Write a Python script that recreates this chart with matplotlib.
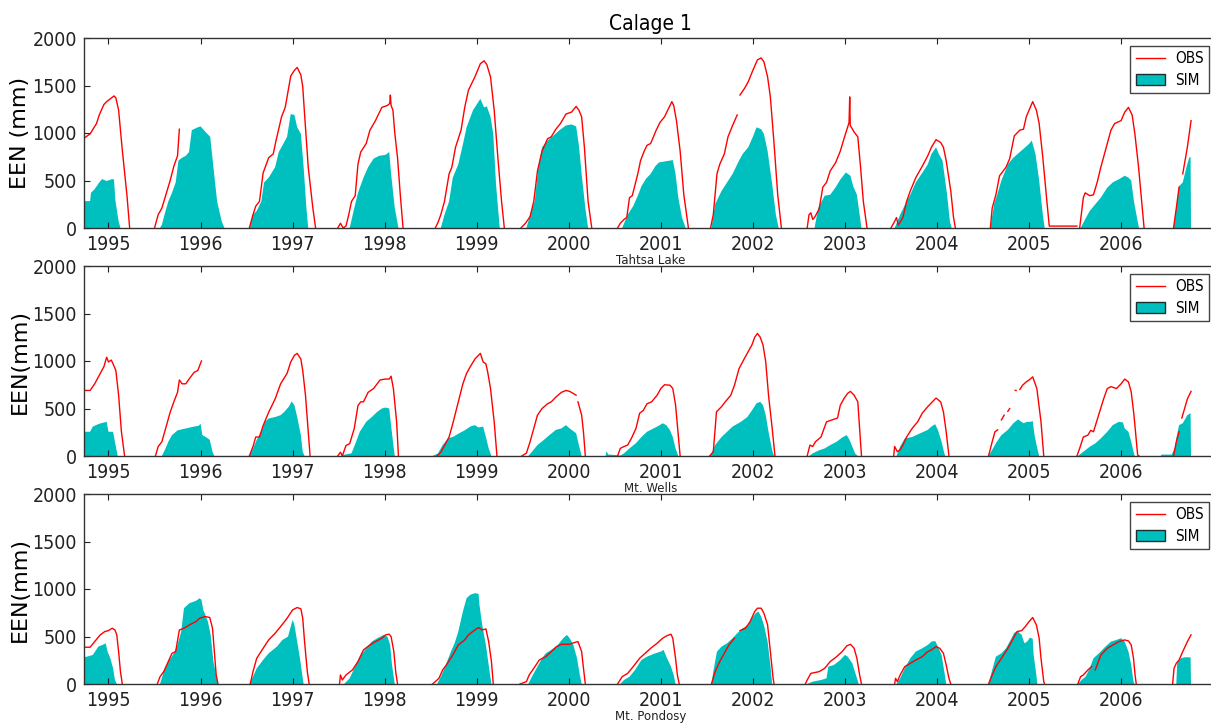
import numpy as np
import matplotlib
matplotlib.use("Agg")
import matplotlib.pyplot as plt
from matplotlib.patches import Patch
from matplotlib.lines import Line2D

plt.rcParams['font.family'] = ['DejaVu Sans']
plt.rcParams['font.stretch'] = 'condensed'

# ---------------- data ----------------
year_ticks = list(range(1995, 2007))
stations = ['Tahtsa Lake', 'Mt. Wells', 'Mt. Pondosy']
ylabels = ['EEN (mm)', 'EEN(mm)', 'EEN(mm)']
title = 'Calage 1'

# (decimal year, SWE mm); None = gap in observations
tahtsa_obs = [
    (1994.74, 950), (1994.80, 990), (1994.85, 1070), (1994.87, 1100), (1994.90, 1190), (1994.95, 1300),
    (1994.98, 1330), (1995.02, 1360), (1995.06, 1390), (1995.08, 1370), (1995.11, 1240), (1995.15, 820),
    (1995.20, 350), (1995.23, 0), None,
    (1995.50, 0), (1995.54, 140), (1995.58, 210), (1995.63, 370), (1995.67, 500), (1995.71, 650),
    (1995.75, 760), (1995.77, 1040), None,
    (1996.53, 0), (1996.57, 140), (1996.60, 230), (1996.64, 280), (1996.68, 580), (1996.74, 740),
    (1996.79, 780), (1996.82, 920), (1996.88, 1170), (1996.92, 1270), (1996.98, 1600), (1997.02, 1660),
    (1997.05, 1690), (1997.09, 1610), (1997.11, 1490), (1997.13, 1200), (1997.17, 640), (1997.22, 210),
    (1997.25, 0), None,
    (1997.49, 0), (1997.52, 50), (1997.55, 0), (1997.58, 20), (1997.61, 140), (1997.64, 280),
    (1997.68, 340), (1997.71, 670), (1997.74, 800), (1997.80, 890), (1997.84, 1030), (1997.90, 1130),
    (1997.97, 1270), (1998.03, 1290), (1998.055, 1310), (1998.062, 1400), (1998.07, 1290), (1998.09, 1240),
    (1998.11, 1000), (1998.14, 740), (1998.17, 350), (1998.20, 0), None,
    (1998.55, 0), (1998.58, 60), (1998.61, 140), (1998.65, 280), (1998.70, 570), (1998.73, 640),
    (1998.77, 850), (1998.83, 1030), (1998.87, 1270), (1998.91, 1450), (1998.98, 1590), (1999.04, 1730),
    (1999.08, 1760), (1999.11, 1720), (1999.15, 1590), (1999.19, 1240), (1999.23, 740), (1999.27, 280),
    (1999.30, 0), None,
    (1999.48, 0), (1999.53, 50), (1999.58, 120), (1999.62, 280), (1999.66, 600), (1999.71, 810),
    (1999.77, 940), (1999.81, 960), (1999.86, 1040), (1999.91, 1100), (1999.97, 1200), (2000.03, 1220),
    (2000.08, 1280), (2000.11, 1240), (2000.14, 1170), (2000.17, 850), (2000.21, 280), (2000.25, 0), None,
    (2000.53, 0), (2000.56, 50), (2000.60, 90), (2000.63, 110), (2000.66, 320), (2000.69, 340),
    (2000.75, 570), (2000.78, 710), (2000.82, 810), (2000.85, 870), (2000.89, 890), (2000.95, 1030),
    (2000.99, 1110), (2001.04, 1170), (2001.09, 1270), (2001.12, 1330), (2001.14, 1290), (2001.17, 1130),
    (2001.21, 810), (2001.25, 350), (2001.30, 0), None,
    (2001.54, 0), (2001.57, 140), (2001.61, 570), (2001.64, 670), (2001.69, 780), (2001.73, 960),
    (2001.78, 1080), (2001.83, 1190), None,
    (2001.86, 1400), (2001.91, 1470), (2001.95, 1540), (2002.00, 1660), (2002.05, 1770), (2002.09, 1790),
    (2002.12, 1750), (2002.16, 1590), (2002.19, 1380), (2002.23, 890), (2002.27, 350), (2002.31, 0), None,
    (2002.59, 0), (2002.61, 140), (2002.63, 160), (2002.65, 90), (2002.67, 110), (2002.72, 200),
    (2002.76, 430), (2002.80, 480), (2002.84, 600), (2002.90, 690), (2002.95, 810), (2002.99, 940),
    (2003.045, 1110), (2003.052, 1380), (2003.058, 1080), (2003.10, 1010), (2003.14, 960), (2003.17, 640),
    (2003.20, 280), (2003.24, 0), None,
    (2003.50, 0), (2003.54, 70), (2003.56, 110), (2003.58, 30), (2003.63, 110), (2003.67, 280),
    (2003.71, 390), (2003.77, 530), (2003.84, 650), (2003.90, 760), (2003.94, 850), (2003.99, 930),
    (2004.04, 900), (2004.07, 850), (2004.10, 710), (2004.15, 390), (2004.18, 110), (2004.20, 0), None,
    (2004.58, 0), (2004.60, 210), (2004.64, 350), (2004.68, 550), (2004.75, 640), (2004.79, 730),
    (2004.84, 970), (2004.90, 1030), (2004.94, 1040), (2004.97, 1170), (2005.00, 1240), (2005.04, 1330),
    (2005.08, 1240), (2005.11, 1100), (2005.15, 740), (2005.19, 320), (2005.22, 20), (2005.52, 20), None,
    (2005.55, 0), (2005.59, 320), (2005.61, 370), (2005.66, 340), (2005.70, 350), (2005.74, 480),
    (2005.78, 640), (2005.85, 890), (2005.89, 1030), (2005.93, 1100), (2006.00, 1130), (2006.04, 1220),
    (2006.08, 1270), (2006.12, 1190), (2006.15, 990), (2006.19, 640), (2006.23, 210), (2006.25, 0), None,
    (2006.57, 0), (2006.60, 210), (2006.63, 430), None,
    (2006.67, 570), (2006.72, 850), (2006.76, 1130),
]

tahtsa_sim = [
    (1994.74, 283), (1994.80, 283), (1994.81, 370), (1994.85, 410), (1994.90, 480), (1994.93, 515),
    (1994.98, 495), (1995.04, 515), (1995.06, 510), (1995.075, 290), (1995.11, 70), (1995.13, 0),
    (1995.56, 0), (1995.58, 35), (1995.62, 180), (1995.65, 280), (1995.69, 370), (1995.73, 480),
    (1995.76, 710), (1995.80, 740), (1995.84, 760), (1995.875, 800), (1995.905, 1030), (1995.97, 1060),
    (1996.00, 1070), (1996.055, 1010), (1996.105, 960), (1996.14, 640), (1996.18, 280), (1996.23, 70),
    (1996.26, 0),
    (1996.53, 0), (1996.57, 140), (1996.61, 180), (1996.66, 280), (1996.69, 480), (1996.74, 530),
    (1996.81, 640), (1996.85, 800), (1996.89, 870), (1996.94, 960), (1996.98, 1200), (1997.02, 1190),
    (1997.05, 1060), (1997.09, 990), (1997.12, 640), (1997.15, 210), (1997.17, 0),
    (1997.62, 0), (1997.67, 210), (1997.71, 370), (1997.77, 530), (1997.82, 640), (1997.88, 730),
    (1997.94, 760), (1998.01, 770), (1998.05, 800), (1998.07, 570), (1998.11, 210), (1998.15, 0),
    (1998.61, 0), (1998.65, 140), (1998.70, 280), (1998.74, 530), (1998.80, 670), (1998.85, 880),
    (1998.89, 1060), (1998.96, 1240), (1999.04, 1360), (1999.08, 1270), (1999.11, 1280), (1999.15, 1170),
    (1999.18, 990), (1999.21, 460), (1999.25, 0),
    (1999.54, 0), (1999.58, 140), (1999.63, 280), (1999.67, 640), (1999.71, 850), (1999.77, 920),
    (1999.83, 970), (1999.90, 1030), (1999.97, 1080), (2000.03, 1090), (2000.08, 1070), (2000.11, 870),
    (2000.14, 570), (2000.18, 210), (2000.21, 0),
    (2000.58, 0), (2000.64, 140), (2000.70, 230), (2000.75, 340), (2000.79, 440), (2000.84, 520),
    (2000.89, 570), (2000.94, 650), (2000.98, 690), (2001.04, 700), (2001.13, 715), (2001.16, 570),
    (2001.19, 320), (2001.23, 110), (2001.27, 0),
    (2001.55, 0), (2001.59, 250), (2001.66, 390), (2001.72, 480), (2001.78, 570), (2001.85, 710),
    (2001.89, 780), (2001.95, 850), (2002.00, 960), (2002.04, 1060), (2002.09, 1040), (2002.12, 990),
    (2002.16, 810), (2002.21, 460), (2002.25, 140), (2002.28, 0),
    (2002.67, 0), (2002.71, 210), (2002.78, 340), (2002.84, 350), (2002.90, 430), (2002.95, 510),
    (2003.01, 585), (2003.06, 550), (2003.09, 440), (2003.13, 350), (2003.16, 140), (2003.18, 0),
    (2003.54, 0), (2003.60, 140), (2003.67, 280), (2003.71, 350), (2003.77, 480), (2003.84, 580),
    (2003.90, 670), (2003.94, 780), (2003.99, 850), (2004.02, 780), (2004.06, 710), (2004.11, 350),
    (2004.14, 70), (2004.16, 0),
    (2004.58, 0), (2004.62, 250), (2004.66, 370), (2004.70, 500), (2004.77, 670), (2004.83, 740),
    (2004.90, 800), (2004.96, 850), (2005.00, 885), (2005.03, 920), (2005.07, 780), (2005.11, 500),
    (2005.15, 140), (2005.17, 0),
    (2005.56, 0), (2005.62, 110), (2005.66, 180), (2005.72, 250), (2005.78, 320), (2005.85, 425),
    (2005.91, 480), (2005.98, 515), (2006.04, 550), (2006.08, 530), (2006.11, 500), (2006.14, 280),
    (2006.18, 70), (2006.195, 0),
    (2006.57, 0), (2006.60, 210), (2006.63, 440), (2006.67, 480), (2006.71, 640), (2006.74, 740),
    (2006.755, 750), (2006.76, 0),
]

wells_obs = [
    (1994.74, 690), (1994.80, 690), (1994.85, 760), (1994.90, 850), (1994.95, 940), (1994.98, 1040),
    (1995.00, 990), (1995.03, 1010), (1995.05, 970), (1995.08, 900), (1995.11, 640), (1995.14, 260),
    (1995.175, 0), None,
    (1995.51, 0), (1995.54, 100), (1995.58, 150), (1995.63, 320), (1995.67, 460), (1995.71, 570),
    (1995.75, 670), (1995.77, 800), (1995.80, 760), (1995.84, 760), (1995.875, 810), (1995.93, 880),
    (1995.97, 900), (1995.99, 950), (1996.01, 1000), None,
    (1996.53, 0), (1996.57, 100), (1996.60, 200), (1996.64, 200), (1996.68, 320), (1996.74, 460),
    (1996.81, 600), (1996.87, 760), (1996.94, 870), (1996.98, 990), (1997.02, 1060), (1997.05, 1080),
    (1997.09, 1020), (1997.11, 900), (1997.14, 640), (1997.17, 260), (1997.19, 0), None,
    (1997.49, 0), (1997.52, 40), (1997.54, 0), (1997.58, 110), (1997.62, 130), (1997.67, 290),
    (1997.71, 530), (1997.74, 570), (1997.77, 570), (1997.82, 670), (1997.88, 710), (1997.95, 800),
    (1998.01, 810), (1998.05, 810), (1998.07, 840), (1998.095, 710), (1998.13, 360), (1998.15, 0), None,
    (1998.57, 0), (1998.61, 40), (1998.65, 110), (1998.70, 200), (1998.74, 340), (1998.80, 570),
    (1998.85, 760), (1998.89, 870), (1998.93, 940), (1998.98, 1020), (1999.02, 1060), (1999.04, 1080),
    (1999.07, 990), (1999.10, 970), (1999.12, 880), (1999.15, 710), (1999.19, 360), (1999.22, 0), None,
    (1999.49, 0), (1999.54, 30), (1999.58, 150), (1999.62, 290), (1999.66, 430), (1999.71, 500),
    (1999.77, 550), (1999.81, 570), (1999.86, 620), (1999.92, 670), (1999.97, 690), (2000.01, 680),
    (2000.08, 640), None,
    (2000.10, 570), (2000.14, 430), (2000.16, 250), (2000.18, 0), None,
    (2000.53, 0), (2000.56, 80), (2000.60, 100), (2000.64, 115), (2000.68, 185), (2000.73, 290),
    (2000.77, 450), (2000.81, 480), (2000.85, 550), (2000.90, 570), (2000.96, 640), (2001.00, 710),
    (2001.04, 750), (2001.10, 745), (2001.13, 710), (2001.16, 540), (2001.19, 220), (2001.21, 0), None,
    (2001.53, 0), (2001.57, 45), (2001.605, 465), (2001.66, 520), (2001.70, 570), (2001.76, 640),
    (2001.80, 745), (2001.85, 920), (2001.91, 1030), (2001.95, 1100), (2001.99, 1170), (2002.02, 1250),
    (2002.05, 1290), (2002.08, 1250), (2002.11, 1170), (2002.14, 990), (2002.17, 640), (2002.21, 290),
    (2002.24, 0), None,
    (2002.59, 0), (2002.62, 115), (2002.65, 100), (2002.68, 150), (2002.74, 200), (2002.80, 360),
    (2002.86, 380), (2002.92, 400), (2002.95, 535), (2002.99, 605), (2003.03, 660), (2003.06, 680),
    (2003.10, 640), (2003.14, 570), (2003.16, 290), (2003.18, 0), None,
    (2003.53, 0), (2003.54, 100), (2003.57, 45), (2003.60, 65), (2003.63, 115), (2003.67, 200),
    (2003.73, 290), (2003.79, 360), (2003.84, 450), (2003.90, 520), (2003.95, 570), (2003.99, 610),
    (2004.04, 570), (2004.07, 465), (2004.10, 255), (2004.13, 0), None,
    (2004.56, 0), (2004.60, 150), (2004.63, 255), (2004.66, 275), None,
    (2004.70, 380), (2004.73, 430), None,
    (2004.77, 470), (2004.79, 500), None,
    (2004.85, 690), (2004.86, 690), None,
    (2004.90, 700), (2004.93, 745), (2004.97, 780), (2005.00, 800), (2005.04, 833), (2005.085, 710),
    (2005.13, 360), (2005.16, 0), None,
    (2005.52, 0), (2005.55, 80), (2005.59, 200), (2005.64, 220), (2005.67, 270), (2005.70, 255),
    (2005.74, 380), (2005.81, 600), (2005.85, 710), (2005.89, 730), (2005.95, 710), (2006.00, 760),
    (2006.04, 810), (2006.08, 780), (2006.11, 675), (2006.14, 430), (2006.18, 10), (2006.195, 0), None,
    (2006.57, 0), (2006.60, 150), (2006.63, 255), None,
    (2006.66, 400), (2006.69, 500), (2006.72, 600), (2006.76, 680),
]

wells_sim = [
    (1994.74, 255), (1994.80, 255), (1994.83, 310), (1994.90, 340), (1994.98, 360), (1995.00, 255),
    (1995.05, 255), (1995.07, 150), (1995.10, 0),
    (1995.58, 0), (1995.62, 80), (1995.65, 150), (1995.69, 220), (1995.75, 270), (1995.84, 290),
    (1995.93, 310), (1995.98, 318), (1996.00, 340), (1996.02, 220), (1996.08, 185), (1996.10, 170),
    (1996.13, 45), (1996.15, 0),
    (1996.53, 0), (1996.57, 80), (1996.61, 170), (1996.66, 255), (1996.70, 360), (1996.74, 395),
    (1996.81, 410), (1996.87, 430), (1996.91, 465), (1996.96, 520), (1996.99, 575), (1997.02, 535),
    (1997.05, 410), (1997.09, 220), (1997.11, 45), (1997.13, 0),
    (1997.53, 0), (1997.54, 10), (1997.64, 28), (1997.69, 150), (1997.73, 255), (1997.80, 360),
    (1997.86, 410), (1997.92, 465), (1997.97, 500), (1998.01, 510), (1998.05, 500), (1998.07, 320),
    (1998.095, 115), (1998.11, 0),
    (1998.52, 0), (1998.58, 28), (1998.63, 115), (1998.69, 185), (1998.75, 205), (1998.81, 240),
    (1998.87, 270), (1998.93, 310), (1998.98, 325), (1999.02, 300), (1999.07, 310), (1999.10, 200),
    (1999.13, 80), (1999.16, 0),
    (1999.56, 0), (1999.60, 45), (1999.66, 115), (1999.73, 170), (1999.79, 220), (1999.86, 275),
    (1999.92, 290), (1999.97, 325), (2000.01, 290), (2000.08, 240), (2000.11, 115), (2000.14, 0),
    (2000.40, 0), (2000.41, 50), (2000.43, 15), (2000.52, 10), (2000.56, 5),
    (2000.60, 28), (2000.66, 80), (2000.73, 135), (2000.79, 200), (2000.85, 255), (2000.92, 290),
    (2000.98, 320), (2001.02, 345), (2001.06, 325), (2001.10, 270), (2001.13, 200), (2001.16, 80),
    (2001.19, 0),
    (2001.54, 0), (2001.59, 115), (2001.66, 200), (2001.72, 255), (2001.78, 310), (2001.87, 360),
    (2001.94, 410), (2001.99, 480), (2002.04, 555), (2002.08, 570), (2002.11, 535), (2002.14, 430),
    (2002.17, 255), (2002.21, 60), (2002.23, 0),
    (2002.61, 0), (2002.65, 28), (2002.72, 60), (2002.78, 80), (2002.84, 115), (2002.91, 150),
    (2002.97, 195), (2003.02, 220), (2003.05, 170), (2003.08, 100), (2003.11, 28), (2003.14, 0),
    (2003.56, 0), (2003.60, 100), (2003.65, 185), (2003.73, 200), (2003.82, 240), (2003.90, 275),
    (2003.94, 310), (2003.98, 335), (2004.01, 275), (2004.05, 150), (2004.08, 28), (2004.09, 0),
    (2004.56, 0), (2004.60, 65), (2004.64, 135), (2004.70, 220), (2004.77, 275), (2004.83, 345),
    (2004.88, 385), (2004.94, 345), (2004.98, 360), (2005.02, 360), (2005.04, 370), (2005.06, 220),
    (2005.09, 80), (2005.11, 0),
    (2005.53, 0), (2005.59, 45), (2005.66, 98), (2005.72, 133), (2005.78, 185), (2005.85, 255),
    (2005.91, 325), (2005.975, 360), (2006.02, 353), (2006.04, 290), (2006.08, 255), (2006.11, 150),
    (2006.144, 10), (2006.152, 0),
    (2006.43, 0), (2006.44, 15), (2006.55, 15), (2006.59, 100), (2006.60, 185), (2006.63, 325),
    (2006.67, 345), (2006.72, 430), (2006.755, 450), (2006.76, 0),
]

pondosy_obs = [
    (1994.74, 387), (1994.80, 387), (1994.85, 446), (1994.91, 517), (1994.96, 552), (1995.00, 562),
    (1995.04, 587), (1995.07, 569), (1995.09, 517), (1995.11, 341), (1995.13, 130), (1995.15, 0), None,
    (1995.53, 0), (1995.56, 77), (1995.60, 130), (1995.65, 236), (1995.69, 323), (1995.73, 341),
    (1995.77, 569), (1995.82, 587), (1995.88, 622), (1995.95, 657), (1995.99, 692), (1996.05, 710),
    (1996.10, 700), (1996.13, 587), (1996.15, 341), (1996.17, 95), (1996.19, 0), None,
    (1996.54, 0), (1996.57, 130), (1996.61, 270), (1996.68, 376), (1996.74, 464), (1996.81, 534),
    (1996.87, 605), (1996.94, 692), (1997.00, 780), (1997.05, 805), (1997.09, 791), (1997.11, 692),
    (1997.13, 446), (1997.16, 130), (1997.18, 0), None,
    (1997.51, 0), (1997.52, 95), (1997.54, 42), (1997.58, 95), (1997.65, 148), (1997.71, 236),
    (1997.77, 359), (1997.84, 411), (1997.90, 446), (1997.97, 482), (1998.01, 517), (1998.05, 524),
    (1998.07, 499), (1998.10, 341), (1998.12, 130), (1998.14, 0), None,
    (1998.52, 0), (1998.55, 25), (1998.59, 60), (1998.63, 148), (1998.67, 200), (1998.74, 306),
    (1998.80, 411), (1998.87, 464), (1998.91, 517), (1998.98, 569), (1999.02, 594), (1999.06, 569),
    (1999.10, 580), (1999.13, 446), (1999.16, 236), (1999.18, 0), None,
    (1999.47, 0), (1999.54, 25), (1999.57, 95), (1999.62, 165), (1999.68, 253), (1999.75, 288),
    (1999.81, 341), (1999.87, 394), (1999.92, 418), (2000.01, 418), (2000.07, 439), (2000.10, 446),
    (2000.14, 341), (2000.16, 165), (2000.18, 0), None,
    (2000.53, 0), (2000.58, 77), (2000.64, 112), (2000.70, 183), (2000.77, 271), (2000.83, 323),
    (2000.89, 376), (2000.96, 429), (2001.02, 482), (2001.07, 510), (2001.11, 524), (2001.13, 482),
    (2001.16, 271), (2001.18, 95), (2001.20, 0), None,
    (2001.55, 0), (2001.59, 130), (2001.64, 236), (2001.70, 341), (2001.74, 411), (2001.80, 482), None,
    (2001.86, 562), (2001.92, 587), (2001.97, 657), (2002.02, 763), (2002.05, 798), (2002.09, 798),
    (2002.12, 745), (2002.16, 622), (2002.19, 341), (2002.22, 60), (2002.23, 0), None,
    (2002.57, 0), (2002.59, 42), (2002.63, 112), (2002.72, 130), (2002.78, 165), (2002.84, 236),
    (2002.91, 288), (2002.97, 341), (2003.02, 401), (2003.06, 418), (2003.10, 376), (2003.13, 271),
    (2003.16, 95), (2003.18, 0), None,
    (2003.54, 0), (2003.55, 60), (2003.57, 25), (2003.60, 95), (2003.65, 183), (2003.71, 218),
    (2003.77, 253), (2003.84, 288), (2003.90, 341), (2003.94, 359), (2003.99, 394), (2004.03, 376),
    (2004.07, 323), (2004.10, 200), (2004.13, 60), (2004.15, 0), None,
    (2004.56, 0), (2004.60, 95), (2004.64, 183), (2004.70, 271), (2004.77, 376), (2004.83, 482),
    (2004.87, 552), (2004.92, 562), (2004.96, 605), (2005.00, 657), (2005.04, 700), (2005.08, 622),
    (2005.11, 482), (2005.13, 271), (2005.16, 25), (2005.17, 0), None,
    (2005.53, 0), (2005.56, 77), (2005.59, 95), (2005.64, 148), (2005.68, 183), None,
    (2005.72, 148), (2005.78, 306), (2005.85, 376), (2005.91, 411), (2005.975, 446), (2006.04, 464),
    (2006.08, 453), (2006.11, 411), (2006.135, 271), (2006.152, 95), (2006.165, 0), None,
    (2006.56, 0), (2006.575, 165), (2006.60, 218), (2006.63, 253), (2006.67, 341), (2006.72, 446),
    (2006.76, 517),
]

pondosy_sim = [
    (1994.74, 281), (1994.83, 306), (1994.89, 394), (1994.95, 418), (1994.97, 429), (1994.99, 341),
    (1995.02, 271), (1995.05, 165), (1995.07, 42), (1995.09, 0),
    (1995.56, 0), (1995.60, 130), (1995.65, 236), (1995.71, 323), (1995.75, 411), (1995.79, 552),
    (1995.82, 798), (1995.88, 851), (1995.95, 875), (1995.99, 903), (1996.01, 886), (1996.03, 780),
    (1996.08, 657), (1996.11, 517), (1996.14, 236), (1996.18, 42), (1996.19, 0),
    (1996.53, 0), (1996.57, 77), (1996.61, 165), (1996.68, 253), (1996.74, 323), (1996.83, 394),
    (1996.89, 464), (1996.95, 499), (1997.00, 675), (1997.02, 622), (1997.05, 446), (1997.08, 271),
    (1997.11, 60), (1997.12, 0),
    (1997.56, 0), (1997.62, 60), (1997.67, 165), (1997.73, 288), (1997.80, 376), (1997.86, 446),
    (1997.92, 482), (1997.99, 517), (1998.03, 499), (1998.06, 411), (1998.08, 200), (1998.11, 0),
    (1998.57, 0), (1998.61, 77), (1998.65, 165), (1998.72, 341), (1998.76, 429), (1998.80, 552),
    (1998.85, 763), (1998.89, 903), (1998.93, 939), (1998.98, 956), (1999.02, 949), (1999.03, 833),
    (1999.06, 622), (1999.10, 411), (1999.14, 130), (1999.16, 0),
    (1999.56, 0), (1999.60, 77), (1999.66, 183), (1999.71, 271), (1999.75, 323), (1999.81, 359),
    (1999.88, 411), (1999.94, 482), (1999.98, 517), (2000.01, 482), (2000.05, 411), (2000.09, 271),
    (2000.12, 95), (2000.14, 0),
    (2000.56, 0), (2000.60, 42), (2000.66, 77), (2000.72, 148), (2000.79, 253), (2000.85, 288),
    (2000.94, 323), (2001.00, 341), (2001.03, 359), (2001.06, 288), (2001.11, 183), (2001.14, 95),
    (2001.16, 0),
    (2001.55, 0), (2001.57, 130), (2001.61, 341), (2001.66, 394), (2001.72, 429), (2001.78, 482),
    (2001.83, 534), (2001.89, 587), (2001.95, 622), (2001.99, 692), (2002.03, 745), (2002.06, 763),
    (2002.09, 710), (2002.12, 622), (2002.16, 446), (2002.19, 200), (2002.21, 0),
    (2002.59, 0), (2002.65, 25), (2002.74, 42), (2002.80, 60), (2002.82, 183), (2002.88, 200),
    (2002.95, 253), (2003.00, 306), (2003.03, 288), (2003.08, 218), (2003.12, 95), (2003.15, 0),
    (2003.56, 0), (2003.60, 60), (2003.65, 165), (2003.71, 271), (2003.77, 341), (2003.84, 376),
    (2003.90, 411), (2003.94, 446), (2003.98, 453), (2004.01, 394), (2004.05, 306), (2004.08, 130),
    (2004.10, 0),
    (2004.56, 0), (2004.60, 148), (2004.64, 288), (2004.70, 323), (2004.75, 376), (2004.79, 446),
    (2004.84, 541), (2004.88, 552), (2004.92, 517), (2004.95, 429), (2004.98, 446), (2005.01, 489),
    (2005.04, 475), (2005.05, 306), (2005.08, 95), (2005.09, 0),
    (2005.53, 0), (2005.57, 42), (2005.615, 77), (2005.66, 165), (2005.70, 271), (2005.76, 323),
    (2005.83, 394), (2005.89, 446), (2005.95, 464), (2006.00, 482), (2006.04, 446), (2006.08, 341),
    (2006.11, 200), (2006.135, 25), (2006.145, 0),
    (2006.60, 0), (2006.61, 236), (2006.65, 271), (2006.69, 281), (2006.755, 281), (2006.76, 0),
]

panels = [(tahtsa_obs, tahtsa_sim), (wells_obs, wells_sim), (pondosy_obs, pondosy_sim)]


def unpack(pairs):
    t = np.array([np.nan if p is None else p[0] for p in pairs], dtype=float)
    v = np.array([np.nan if p is None else p[1] for p in pairs], dtype=float)
    return t, v


# ---------------- figure ----------------
W, H = 1211, 723
fig = plt.figure(figsize=(W / 100, H / 100), dpi=100)

left = 84 / W
width = (1217 - 84) / W
tops = [38, 266, 494]
hgt = 190 / H

SIM_COLOR = (0.0, 0.75, 0.75)

for i, ((obs, sim), station, ylab) in enumerate(zip(panels, stations, ylabels)):
    bottom = 1 - (tops[i] + 190) / H
    ax = fig.add_axes([left, bottom, width, hgt])
    ts, vs = unpack(sim)
    to, vo = unpack(obs)
    ax.fill_between(ts, 0, vs, facecolor=SIM_COLOR, edgecolor='none', linewidth=0, zorder=1)
    ax.plot(to, vo, color='red', linewidth=1.0, zorder=2)

    ax.set_xlim(1994.734, 2007.042)
    ax.set_ylim(0, 2000)
    ax.set_xticks(year_ticks)
    ax.set_xticklabels([str(y) for y in year_ticks])
    ax.set_yticks([0, 500, 1000, 1500, 2000])
    ax.tick_params(direction='in', length=4, width=0.8, top=True, right=True,
                   labelsize=14, pad=5, colors='#222222')
    for sp in ax.spines.values():
        sp.set_color('#333333')
        sp.set_linewidth(1.0)
        sp.set_zorder(3)
    ax.set_ylabel(ylab, fontsize=16, fontstretch='normal', labelpad=2)
    ax.set_xlabel(station, fontsize=8.5, fontstretch='normal', labelpad=0, color='#222222')

    handles = [Line2D([], [], color='red', linewidth=1.0),
               Patch(facecolor=SIM_COLOR, edgecolor='#1a3030', linewidth=1.0)]
    leg = ax.legend(handles, ['OBS', 'SIM'], loc='upper right', fontsize=11,
                    fancybox=False, framealpha=1, edgecolor='#444444',
                    handlelength=1.9, handletextpad=0.7, borderpad=0.35,
                    labelspacing=0.45, borderaxespad=0.5)
    leg.get_frame().set_linewidth(1.0)

    if i == 0:
        ax.set_title(title, fontsize=15, pad=6)

fig.savefig('out.png', dpi=100)
